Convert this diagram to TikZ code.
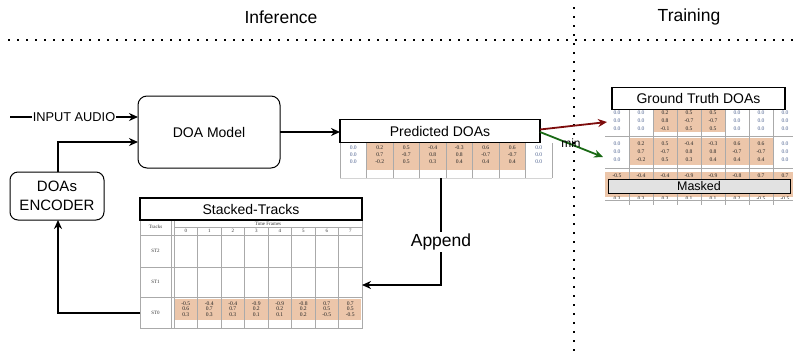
\documentclass[tikz,border=0pt]{standalone}
\usepackage{fontspec}
\setmainfont{Liberation Sans}
\newfontfamily\tabfont{Liberation Serif}
\usetikzlibrary{arrows.meta,calc}

\definecolor{cellshade}{RGB}{236,198,170}
\definecolor{zeroblue}{RGB}{80,100,145}
\definecolor{gridgray}{RGB}{170,170,170}
\definecolor{arrowred}{RGB}{125,12,12}
\definecolor{arrowgreen}{RGB}{25,105,20}
\definecolor{maskgray}{RGB}{226,226,226}

% three stacked values of one table column: x, top y, row step, a, b, c, style
\newcommand\valcol[7]{%
  \node[#7] at ({#1},{#2}) {#4};
  \node[#7] at ({#1},{#2+#3}) {#5};
  \node[#7] at ({#1},{#2+2*#3}) {#6};
}

\begin{document}
\begin{tikzpicture}[x=1pt,y=-1pt,
  every node/.style={inner sep=0pt,outer sep=0pt},
  fs/.style={font=\fontsize{#1}{#1}\selectfont},
  roundbox/.style={draw,line width=1pt,rounded corners=9pt,fs=14},
  titlebox/.style={draw,line width=1.1pt,fill=white,fs=14},
  conn/.style={line width=1.5pt,-{Stealth[length=9pt,width=8pt]}},
  dotline/.style={line width=1.6pt,dash pattern=on 1.6pt off 7.4pt},
  val/.style={font=\tabfont\fontsize{5.6}{6}\selectfont,text=black!85},
  zero/.style={val,text=zeroblue},
  grid/.style={draw=gridgray,line width=0.6pt},
  hdr/.style={font=\tabfont\fontsize{5}{5}\selectfont,text=black!80},
]
\useasboundingbox (0,0) rectangle (793,357);

% ---------- section headers and separators ----------
\draw[dotline] (8,40) -- (793,40);
\draw[dotline] (574,7) -- (574,357);
\node[fs=17.5] (inf) at (281,17) {Inference};
\node[fs=17.5] (tra) at (689,17) {Training};

% ---------- main blocks ----------
\node[roundbox,minimum width=142pt,minimum height=72pt] (model) at (209,132) {DOA Model};
\node[roundbox,minimum width=94pt,minimum height=48pt,rounded corners=8pt,
      align=center,font=\fontsize{15}{19}\selectfont] (enc) at (57,196) {DOAs\\ENCODER};

% ---------- predicted DOAs ----------
\node[minimum width=212pt,minimum height=35pt] (predtab) at (446,160.5) {};
\fill[cellshade] (366.5,143) rectangle (525.5,170);
\foreach \i in {0,...,8} \draw[grid] ({340+\i*26.5},143) -- ({340+\i*26.5},178);
\draw[grid,draw=gridgray!50] (340,178) -- (552,178);
\valcol{353.25}{148}{7}{0.0}{0.0}{0.0}{zero}
\valcol{379.75}{148}{7}{0.2}{0.7}{-0.2}{val}
\valcol{406.25}{148}{7}{0.5}{-0.7}{0.5}{val}
\valcol{432.75}{148}{7}{-0.4}{0.8}{0.3}{val}
\valcol{459.25}{148}{7}{-0.3}{0.8}{0.4}{val}
\valcol{485.75}{148}{7}{0.6}{-0.7}{0.4}{val}
\valcol{512.25}{148}{7}{0.6}{-0.7}{0.4}{val}
\valcol{538.75}{148}{7}{0.0}{0.0}{0.0}{zero}
\node[titlebox,minimum width=200pt,minimum height=23pt] (pred) at (440,131) {Predicted DOAs};

% ---------- ground truth DOAs ----------
\fill[cellshade] (653,104) rectangle (725,132);
\fill[cellshade] (629,138) rectangle (773,165);
\fill[cellshade] (605,172) rectangle (793,197);
\foreach \i in {1,...,7} \draw[grid] ({605+\i*24},106) -- ({605+\i*24},205);
\foreach \yy in {136,168,200} \draw[grid] (605,\yy) -- (793,\yy);
\node[minimum width=188pt,minimum height=100pt] (gttab) at (699,156) {};
% top block
\valcol{617}{113}{8}{0.0}{0.0}{0.0}{zero}
\valcol{641}{113}{8}{0.0}{0.0}{0.0}{zero}
\valcol{665}{113}{8}{0.2}{0.8}{-0.1}{val}
\valcol{689}{113}{8}{0.5}{-0.7}{0.5}{val}
\valcol{713}{113}{8}{0.5}{-0.7}{0.5}{val}
\valcol{737}{113}{8}{0.0}{0.0}{0.0}{zero}
\valcol{761}{113}{8}{0.0}{0.0}{0.0}{zero}
\valcol{785}{113}{8}{0.0}{0.0}{0.0}{zero}
% middle block
\valcol{617}{143.5}{8}{0.0}{0.0}{0.0}{zero}
\valcol{641}{143.5}{8}{0.2}{0.7}{-0.2}{val}
\valcol{665}{143.5}{8}{0.5}{-0.7}{0.5}{val}
\valcol{689}{143.5}{8}{-0.4}{0.8}{0.3}{val}
\valcol{713}{143.5}{8}{-0.3}{0.8}{0.4}{val}
\valcol{737}{143.5}{8}{0.6}{-0.7}{0.4}{val}
\valcol{761}{143.5}{8}{0.6}{-0.7}{0.4}{val}
\valcol{785}{143.5}{8}{0.0}{0.0}{0.0}{zero}
% bottom block: first row shown, last row cut by the table edge
\foreach \v [count=\i from 0] in {-0.5,-0.4,-0.4,-0.9,-0.9,-0.8,0.7,0.7}
  \node[val] at ({617+\i*24},176) {\v};
\begin{scope}
  \clip (600,193) rectangle (793,198);
  \foreach \v [count=\i from 0] in {0.3,0.3,0.3,0.1,0.1,0.2,-0.5,-0.5}
    \node[val] at ({617+\i*24},198.5) {\v};
\end{scope}
\node[draw,line width=1pt,fill=maskgray,minimum width=182pt,minimum height=14pt,fs=12.5] (mask) at (699,186) {Masked};
\node[titlebox,minimum width=173pt,minimum height=22pt] (gt) at (698.5,98.5) {Ground Truth DOAs};

% ---------- stacked tracks ----------
\node[minimum width=222pt,minimum height=108pt] (sttab) at (251,274) {};
\fill[cellshade] (175,299) rectangle (361,320);
\draw[grid] (140,220) rectangle (362,328);
\draw[grid] (171,220) -- (171,328);
\draw[grid] (174,220) -- (174,328);
\draw[grid] (174,227) -- (362,227);
\foreach \yy in {235,267,297} \draw[grid] (140,\yy) -- (362,\yy);
\foreach \i in {1,...,7} \draw[grid] ({174+\i*23.5},227) -- ({174+\i*23.5},328);
\node[hdr] at (155.5,227) {Tracks};
\node[hdr] at (268,223.5) {Time Frames};
\foreach \i in {0,...,7} \node[hdr] at ({185.75+\i*23.5},231) {\i};
\node[hdr] at (155.5,251) {ST2};
\node[hdr] at (155.5,282) {ST1};
\node[hdr] at (155.5,313) {ST0};
\valcol{185.75}{303.5}{5.5}{-0.5}{0.6}{0.3}{val}
\valcol{209.25}{303.5}{5.5}{-0.4}{0.7}{0.3}{val}
\valcol{232.75}{303.5}{5.5}{-0.4}{0.7}{0.3}{val}
\valcol{256.25}{303.5}{5.5}{-0.9}{0.2}{0.1}{val}
\valcol{279.75}{303.5}{5.5}{-0.9}{0.2}{0.1}{val}
\valcol{303.25}{303.5}{5.5}{-0.8}{0.2}{0.2}{val}
\valcol{326.75}{303.5}{5.5}{0.7}{0.5}{-0.5}{val}
\valcol{350.25}{303.5}{5.5}{0.7}{0.5}{-0.5}{val}
\node[titlebox,minimum width=222pt,minimum height=22pt] (st) at (251,209) {Stacked-Tracks};

% ---------- connectors ----------
\coordinate (inp) at (10,117);
\coordinate (encin) at (0,142);
\coordinate (apbend) at (441,285);
\coordinate (loop) at (58,313);
\coordinate (redtip) at (607,122);
\coordinate (greentip) at (603,157);

\draw[conn] (inp) -- node[fill=white,inner xsep=1pt,fs=12.8]{INPUT AUDIO} (model.west |- inp);
\draw[conn] (enc.north -| loop) |- (model.west |- encin);
\draw[conn] (model.east) -- (model.east -| pred.west);
\draw[conn] (predtab.south -| apbend) -- node[pos=0.6,fill=white,inner sep=2pt,fs=17.5]{Append} (apbend) -- (apbend -| sttab.east);
\draw[conn] (sttab.west |- loop) -- (loop) -- (enc.south -| loop);
\draw[line width=1.8pt,draw=arrowred,-{Stealth[length=9pt,width=8pt]}] ([yshift=1.5pt]pred.east) -- (redtip);
\draw[line width=1.8pt,draw=arrowgreen,-{Stealth[length=9pt,width=8pt]}] ([yshift=-1pt]pred.east) -- (greentip);
\node[fs=12] (minlbl) at (571,143.5) {min};
\end{tikzpicture}
\end{document}
